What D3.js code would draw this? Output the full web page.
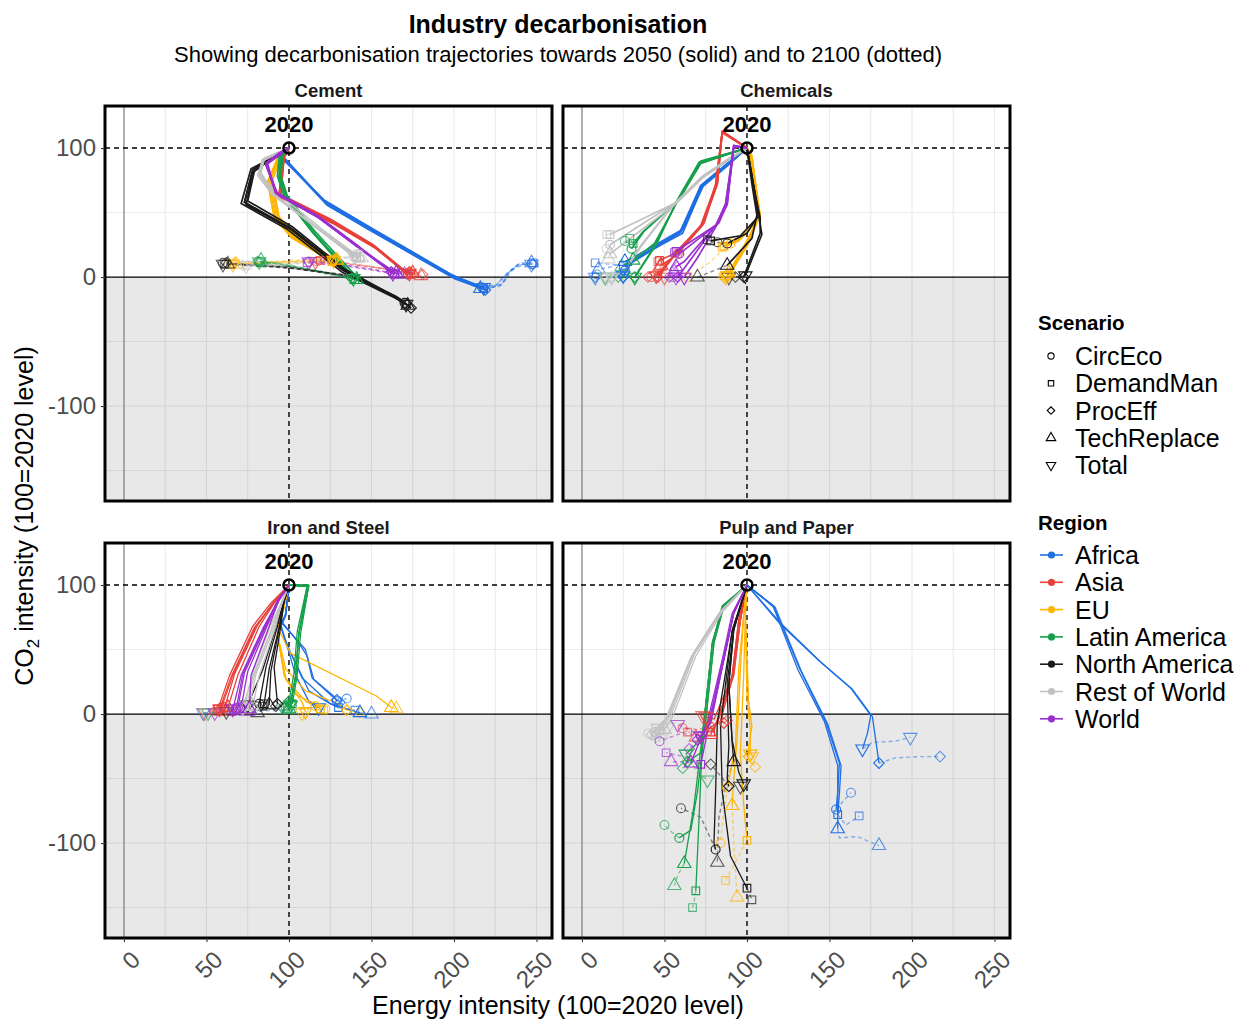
<!DOCTYPE html>
<html lang="en">
<head>
<meta charset="UTF-8">
<title>Industry decarbonisation</title>
<script src="https://cdnjs.cloudflare.com/ajax/libs/d3/7.8.5/d3.min.js"></script>
<style>
  body { margin: 0; background: #fff; font-family: "Liberation Sans", Arial, sans-serif; }
  .tick text { fill: #4d4d4d; font-size: 24px; font-family: "Liberation Sans", Arial, sans-serif; }
  .tick line { stroke: #333; }
</style>
</head>
<body>
<svg id="chart" width="1239" height="1019"></svg>
<script>
const sectors = ["Cement", "Chemicals", "Iron and Steel", "Pulp and Paper"];
const regions = ["Africa", "Asia", "EU", "Latin America", "North America", "Rest of World", "World"];
const regionColors = ["#1f6fe3", "#e8403a", "#ffb400", "#17a04b", "#1a1a1a", "#c2c2c2", "#9a2fcf"];
const scenarios = ["CircEco", "DemandMan", "ProcEff", "TechReplace", "Total"];
const xTicks = [0, 50, 100, 150, 200, 250];
const yTicks = [-100, 0, 100];
const xGrid = [25, 50, 75, 125, 150, 175, 200, 225, 250];
const yGrid = [-150, -100, -50, 50];
const base2020 = [100, 100];

// [region, scenario, path to 2050 (x,y pairs after 2020), path 2050 -> 2100]
const cementPaths = [
  ["Africa","CircEco",[95,95,122,58,147,39,198,2,217,-8],[226,-6,232,3,239,10,247,10]],
  ["Africa","DemandMan",[95,94,123,56,148,37,199,0,218,-9],[228,-7,233,2,240,11,248,11]],
  ["Africa","ProcEff",[96,94,124,55,150,36,200,-1,219,-10],[230,-5,234,5,241,9,248,10]],
  ["Africa","TechReplace",[95,93,121,60,146,41,197,3,216,-9],[224,-8,231,1,238,9,247,11]],
  ["Africa","Total",[96,93,123,57,149,38,199,1,218,-8],[229,-6,233,4,240,10,247,10]],
  ["Asia","CircEco",[97,93,94,64,125,44,151,24,169,5,172,3],[150,8,131,11,117,12]],
  ["Asia","DemandMan",[97,92,94,63,126,43,152,23,170,4,174,2],[165,5,140,10,119,13]],
  ["Asia","ProcEff",[97,93,95,64,125,45,151,25,169,6,173,4],[178,3,181,2]],
  ["Asia","TechReplace",[96,92,94,62,126,42,153,22,171,4,175,3],[177,2,180,1]],
  ["Asia","Total",[97,93,95,63,125,44,152,24,170,5,173,3],[160,6,135,10,116,12]],
  ["EU","CircEco",[94,92,88,75,92,47,103,31,123,16,127,13],[100,12,80,11,66,10]],
  ["EU","DemandMan",[93,92,87,74,91,46,102,30,122,15,126,12],[100,11,82,10,65,10]],
  ["EU","ProcEff",[94,93,89,76,93,48,104,32,124,17,128,14],[102,13,80,11,67,11]],
  ["EU","TechReplace",[95,92,90,75,94,46,105,30,125,15,129,13],[104,12,84,11,68,10]],
  ["EU","Total",[94,92,88,74,92,46,103,30,123,16,127,13],[101,12,81,11,66,10]],
  ["Latin America","CircEco",[95,93,94,78,98,62,115,34,137,3,139,-1],[115,5,95,10,82,12]],
  ["Latin America","DemandMan",[96,93,95,77,99,61,116,33,138,2,140,-2],[116,4,96,9,83,11]],
  ["Latin America","ProcEff",[94,93,93,78,97,63,114,35,136,3,138,-1],[114,6,94,10,81,12]],
  ["Latin America","TechReplace",[96,94,95,79,99,63,116,35,139,3,141,-2],[117,5,97,10,83,13]],
  ["Latin America","Total",[95,93,94,77,98,62,115,34,137,2,139,-1],[115,5,95,10,82,12]],
  ["North America","CircEco",[92,95,78,83,73,58,101,38,133,5,165,-15,170,-20],[160,-12,137,1,100,7,60,11]],
  ["North America","DemandMan",[92,94,77,84,71,57,99,37,132,4,164,-16,171,-21],[161,-13,138,0,98,8,61,10]],
  ["North America","ProcEff",[93,95,79,82,75,59,102,39,134,6,167,-17,174,-24],[162,-14,139,1,102,7,62,11]],
  ["North America","TechReplace",[92,95,78,81,74,56,103,36,135,4,168,-18,172,-22],[163,-15,140,0,101,8,63,10]],
  ["North America","Total",[92,94,78,83,73,58,101,37,133,5,166,-16,171,-21],[161,-13,138,1,100,7,60,10]],
  ["Rest of World","CircEco",[84,91,82,80,90,65,119,36,139,16],[130,15,100,11,75,9]],
  ["Rest of World","DemandMan",[85,92,83,81,91,64,120,35,141,15],[143,14]],
  ["Rest of World","ProcEff",[84,90,81,79,90,64,118,37,140,17],[131,14,102,10,72,9]],
  ["Rest of World","TechReplace",[85,91,82,80,92,66,121,36,142,16],[144,15]],
  ["Rest of World","Total",[84,91,82,80,90,65,119,36,140,16],[132,14,101,10,74,9]],
  ["World","CircEco",[94,96,86,88,92,65,117,47,141,24,163,3],[150,6,130,10,112,12]],
  ["World","DemandMan",[94,95,86,87,93,64,118,46,142,23,164,2],[152,5,131,9,111,11]],
  ["World","ProcEff",[94,96,87,88,92,66,117,48,141,25,162,4],[168,3,172,2]],
  ["World","TechReplace",[95,95,86,87,93,65,118,46,142,23,165,3],[170,2]],
  ["World","Total",[94,96,86,88,92,65,117,47,141,24,163,3],[151,6,130,10,112,12]]
];

const chemicalsPaths = [
  ["Africa","CircEco",[88,87,73,71,60,35,31,13,26,5],[17,3,9,2]],
  ["Africa","DemandMan",[88,86,73,70,61,34,32,14,25,9],[16,10,8,11]],
  ["Africa","ProcEff",[87,87,72,71,60,36,30,12,25,0],[16,0,8,0]],
  ["Africa","TechReplace",[88,88,74,72,61,37,31,15,26,12],[18,8,10,6]],
  ["Africa","Total",[87,86,72,70,59,34,30,11,25,1],[16,0,8,0]],
  ["Asia","CircEco",[85,113,82,73,74,42,58,18],[50,10,42,0]],
  ["Asia","DemandMan",[85,112,82,72,73,41,56,18,47,13],[46,12]],
  ["Asia","ProcEff",[85,113,81,71,72,40,55,15,46,0],[40,0]],
  ["Asia","TechReplace",[85,112,81,72,73,40,56,16,48,9],[47,8]],
  ["Asia","Total",[85,113,82,72,73,41,54,14,45,1],[50,0]],
  ["EU","CircEco",[103,93,108,47,96,30,90,26],[76,10,64,0]],
  ["EU","DemandMan",[103,92,108,46,95,28,86,24],[85,23]],
  ["EU","ProcEff",[102,93,107,47,100,25,90,4,88,1],[86,0]],
  ["EU","TechReplace",[103,94,107,46,99,26,91,8,89,3],[88,1]],
  ["EU","Total",[102,92,108,48,100,24,90,3,88,1],[87,0]],
  ["Latin America","CircEco",[72,89,59,60,38,36,30,22],[26,28]],
  ["Latin America","DemandMan",[72,88,58,59,37,35,31,26],[29,30]],
  ["Latin America","ProcEff",[71,89,57,58,45,25,32,0],[22,0]],
  ["Latin America","TechReplace",[72,90,58,59,44,26,31,13],[24,8]],
  ["Latin America","Total",[71,88,57,57,44,24,32,0],[23,0,14,0]],
  ["North America","CircEco",[104,70,107,48,100,34,88,26],[82,27]],
  ["North America","DemandMan",[104,71,107,47,96,32,78,28],[76,29]],
  ["North America","ProcEff",[104,70,108,46,108,34,98,0],[93,0]],
  ["North America","TechReplace",[103,72,106,48,103,30,88,9],[70,0]],
  ["North America","Total",[104,71,107,49,109,33,99,1],[89,0]],
  ["Rest of World","CircEco",[88,91,74,79,57,58,17,25],[15,22]],
  ["Rest of World","DemandMan",[88,90,73,78,56,57,17,33],[15,33]],
  ["Rest of World","ProcEff",[87,90,72,77,55,55,36,25,25,4,18,0],[14,0]],
  ["Rest of World","TechReplace",[88,91,74,78,57,57,17,18],[16,14]],
  ["Rest of World","Total",[87,89,72,76,54,54,36,24,25,3,18,0],[15,0]],
  ["World","CircEco",[92,102,88,57,83,42,59,18],[56,8,55,0]],
  ["World","DemandMan",[92,101,88,56,82,41,57,20],[56,19]],
  ["World","ProcEff",[92,102,87,57,82,42,65,12,58,0],[53,0]],
  ["World","TechReplace",[92,101,87,56,81,40,62,12,57,8],[56,4]],
  ["World","Total",[92,102,88,58,83,43,70,15,62,0],[57,0]]
];

const ironPaths = [
  ["Africa","CircEco",[98,78,96,71,106,55,111,45,115,27,127,14,129,10],[135,12]],
  ["Africa","DemandMan",[98,77,95,70,98,55,104,40,112,18,125,8,130,5],[140,3]],
  ["Africa","ProcEff",[98,78,96,70,110,50,114,28,126,14,129,11],[131,9]],
  ["Africa","TechReplace",[98,77,95,68,100,50,108,28,125,8,143,1],[150,0]],
  ["Africa","Total",[98,76,95,68,100,48,104,30,112,10,118,5],[80,2,48,1]],
  ["Asia","CircEco",[90,85,80,68,66,30,59,5],[58,3]],
  ["Asia","DemandMan",[89,86,78,68,64,30,57,4],[56,2]],
  ["Asia","ProcEff",[90,86,81,69,67,31,61,5],[61,3]],
  ["Asia","TechReplace",[91,86,82,68,69,30,63,5],[63,2]],
  ["Asia","Total",[90,85,79,67,65,29,58,4],[49,1]],
  ["EU","CircEco",[95,77,93,60,98,27,110,10,116,6],[122,4]],
  ["EU","DemandMan",[95,78,93,63,97,30,104,15,116,8,119,4],[121,3]],
  ["EU","ProcEff",[96,78,93,62,98,35,110,18,130,8,135,3],[143,1]],
  ["EU","TechReplace",[96,80,94,65,101,47,153,14,162,5],[165,4]],
  ["EU","Total",[96,77,93,61,98,28,108,9,110,2],[108,1]],
  ["Latin America","CircEco",[106,100,111,100,106,63,104,30,101,9],[98,5]],
  ["Latin America","DemandMan",[107,100,112,100,107,62,105,30,102,8],[99,6]],
  ["Latin America","ProcEff",[106,99,111,99,105,64,103,31,100,10],[96,5]],
  ["Latin America","TechReplace",[106,100,112,99,106,62,104,28,100,4],[99,3]],
  ["Latin America","Total",[107,100,112,100,106,63,104,29,101,7],[80,3,51,1]],
  ["North America","CircEco",[97,88,93,68,86,36,82,8],[81,6]],
  ["North America","DemandMan",[97,87,94,67,88,35,85,8],[84,6]],
  ["North America","ProcEff",[97,88,95,68,91,36,93,8],[92,6]],
  ["North America","TechReplace",[97,87,94,66,89,33,88,7],[81,1]],
  ["North America","Total",[97,88,92,67,84,34,75,7],[62,2]],
  ["Rest of World","CircEco",[96,88,90,68,79,30,74,6],[72,4]],
  ["Rest of World","DemandMan",[96,87,91,67,80,31,76,6],[74,4]],
  ["Rest of World","ProcEff",[96,88,89,69,78,32,73,7],[70,5]],
  ["Rest of World","TechReplace",[96,88,92,68,82,30,78,6],[76,4]],
  ["Rest of World","Total",[96,87,90,67,78,29,72,5],[50,1]],
  ["World","CircEco",[93,88,86,68,73,32,69,5],[68,3]],
  ["World","DemandMan",[93,87,85,67,72,31,68,4],[66,2]],
  ["World","ProcEff",[94,88,87,69,75,33,71,5],[70,3]],
  ["World","TechReplace",[94,89,88,68,77,30,76,4],[75,2]],
  ["World","Total",[93,87,84,66,71,30,66,4],[55,1]]
];

const pulpPaths = [
  ["Africa","CircEco",[116,84,132,35,148,-7,156,-38,155,-60,154,-74],[158,-68,163,-61]],
  ["Africa","DemandMan",[117,83,133,33,149,-8,157,-40,156,-62,155,-78],[160,-86,168,-79]],
  ["Africa","ProcEff",[120,71,145,40,164,19,176,-2,178,-20,180,-38],[190,-34,205,-33,217,-33]],
  ["Africa","TechReplace",[116,83,131,34,147,-6,155,-40,155,-70,155,-89],[156,-96,167,-95,180,-102]],
  ["Africa","Total",[120,70,144,41,163,20,175,-1,173,-15,170,-27],[176,-22,190,-21,199,-18]],
  ["Asia","CircEco",[96,73,92,30,82,-7,78,-10],[70,-12,61,-11]],
  ["Asia","DemandMan",[96,72,91,29,81,-8,78,-14],[70,-15,64,-14]],
  ["Asia","ProcEff",[96,74,92,31,84,-5,86,-7],[88,-5]],
  ["Asia","TechReplace",[95,73,91,30,82,-6,78,-16],[72,-18,69,-18]],
  ["Asia","Total",[95,73,91,29,80,-4,75,-2],[73,-1]],
  ["EU","CircEco",[98,77,95,35,93,-25,90,-45,88,-57],[85,-85,84,-100]],
  ["EU","DemandMan",[99,77,98,30,96,-30,98,-70,100,-98],[95,-110,87,-129]],
  ["EU","ProcEff",[99,79,101,10,103,-10,101,-25,101,-33],[103,-37,105,-41]],
  ["EU","TechReplace",[98,76,96,34,94,-20,92,-50,91,-71],[92,-100,94,-142]],
  ["EU","Total",[99,78,100,12,102,-12,102,-28,102,-31],[103,-33]],
  ["Latin America","CircEco",[86,84,80,55,74,-17,70,-60,66,-90,59,-96],[53,-90,50,-86]],
  ["Latin America","DemandMan",[86,83,79,56,73,-18,71,-80,69,-137],[68,-145,67,-150]],
  ["Latin America","ProcEff",[86,84,80,56,74,-16,72,-30,64,-37],[61,-42]],
  ["Latin America","TechReplace",[85,84,79,54,73,-16,68,-70,62,-116],[58,-125,56,-133]],
  ["Latin America","Total",[85,83,79,55,73,-17,68,-25,63,-31],[70,-45,76,-51]],
  ["North America","CircEco",[91,64,86,24,82,-7,81,-60,80,-100,81,-105],[72,-80,60,-73]],
  ["North America","DemandMan",[91,65,87,23,84,-10,85,-60,90,-110,100,-135],[103,-144]],
  ["North America","ProcEff",[92,66,88,24,89,-25,88,-50,89,-56],[84,-48,78,-39]],
  ["North America","TechReplace",[92,66,89,24,91,-22,92,-37],[88,-50,83,-80,82,-115]],
  ["North America","Total",[92,65,89,23,91,-20,95,-45,98,-54],[96,-56]],
  ["Rest of World","CircEco",[84,79,67,45,52,-2,44,-14],[40,-15]],
  ["Rest of World","DemandMan",[85,80,68,46,54,-1,47,-13],[44,-16]],
  ["Rest of World","ProcEff",[83,78,66,44,51,-3,42,-16],[45,-18]],
  ["Rest of World","TechReplace",[85,79,69,45,55,-2,50,-12],[48,-16]],
  ["Rest of World","Total",[84,80,67,46,53,-1,46,-11],[52,-10]],
  ["World","CircEco",[92,79,86,42,78,-7,72,-17],[60,-15,47,-21]],
  ["World","DemandMan",[92,78,85,41,77,-8,72,-39],[62,-33,51,-30]],
  ["World","ProcEff",[92,79,86,43,78,-6,70,-20],[65,-27]],
  ["World","TechReplace",[91,78,85,42,76,-6,66,-38],[60,-37,54,-37]],
  ["World","Total",[92,78,86,42,77,-5,72,-17],[65,-12,58,-8]]
];

const sectorPaths = [cementPaths, chemicalsPaths, ironPaths, pulpPaths];

const svg = d3.select("#chart");
const font = "'Liberation Sans', Arial, sans-serif";
const panelW = 447, panelH = 395;
const panelX = [105, 563], panelY = [106, 543];

const x = d3.scaleLinear().domain([-11.5, 259.4]).range([0, panelW]);
const y = d3.scaleLinear().domain([-173.6, 132.6]).range([panelH, 0]);
const color = d3.scaleOrdinal().domain(regions).range(regionColors);

const symbolFor = {
  "CircEco": { type: d3.symbolCircle, size: 62, rot: 0 },
  "DemandMan": { type: d3.symbolSquare, size: 58, rot: 0 },
  "ProcEff": { type: d3.symbolSquare, size: 56, rot: 45 },
  "TechReplace": { type: d3.symbolTriangle, size: 78, rot: 0 },
  "Total": { type: d3.symbolTriangle, size: 78, rot: 180 }
};

function pairs(flat) {
  const out = [];
  for (let i = 0; i < flat.length; i += 2) out.push([flat[i], flat[i + 1]]);
  return out;
}

const line = d3.line().x(d => x(d[0])).y(d => y(d[1]));

function drawMarker(g, pt, scen, col, op) {
  const s = symbolFor[scen];
  g.append("path")
    .attr("d", d3.symbol().type(s.type).size(s.size)())
    .attr("transform", `translate(${x(pt[0])},${y(pt[1])}) rotate(${s.rot})`)
    .attr("fill", "none")
    .attr("stroke", col)
    .attr("stroke-width", 1.1)
    .attr("opacity", op);
}

// title
svg.append("text").attr("x", 558).attr("y", 33).attr("text-anchor", "middle")
  .attr("font-family", font).attr("font-size", 25).attr("font-weight", "bold")
  .attr("fill", "#000").text("Industry decarbonisation");
svg.append("text").attr("x", 558).attr("y", 62).attr("text-anchor", "middle")
  .attr("font-family", font).attr("font-size", 22).attr("fill", "#000")
  .text("Showing decarbonisation trajectories towards 2050 (solid) and to 2100 (dotted)");

sectors.forEach((sector, si) => {
  const col = si % 2, row = Math.floor(si / 2);
  const g = svg.append("g").attr("transform", `translate(${panelX[col]},${panelY[row]})`);

  g.append("defs").append("clipPath").attr("id", "clip" + si)
    .append("rect").attr("width", panelW).attr("height", panelH);

  // strip label
  g.append("text").attr("x", panelW / 2).attr("y", -9).attr("text-anchor", "middle")
    .attr("font-family", font).attr("font-size", 18.5).attr("font-weight", "bold")
    .attr("fill", "#1a1a1a").text(sector);

  const plot = g.append("g").attr("clip-path", `url(#clip${si})`);
  plot.append("rect").attr("width", panelW).attr("height", panelH).attr("fill", "#fff");

  plot.selectAll(".gx").data(xGrid).join("line")
    .attr("x1", d => x(d)).attr("x2", d => x(d)).attr("y1", 0).attr("y2", panelH)
    .attr("stroke", "#ebebeb").attr("stroke-width", 1.1);
  plot.selectAll(".gy").data(yGrid).join("line")
    .attr("x1", 0).attr("x2", panelW).attr("y1", d => y(d)).attr("y2", d => y(d))
    .attr("stroke", "#ebebeb").attr("stroke-width", 1.1);

  // negative emissions zone
  plot.append("rect").attr("x", 0).attr("y", y(0)).attr("width", panelW)
    .attr("height", panelH - y(0)).attr("fill", "#000").attr("opacity", 0.09);

  plot.append("line").attr("x1", x(0)).attr("x2", x(0)).attr("y1", 0).attr("y2", panelH)
    .attr("stroke", "#7a7a7a").attr("stroke-width", 1.2);
  plot.append("line").attr("x1", 0).attr("x2", panelW).attr("y1", y(0)).attr("y2", y(0))
    .attr("stroke", "#000").attr("stroke-width", 1.3);
  plot.append("line").attr("x1", x(100)).attr("x2", x(100)).attr("y1", 0).attr("y2", panelH)
    .attr("stroke", "#000").attr("stroke-width", 1.4).attr("stroke-dasharray", "5,4");
  plot.append("line").attr("x1", 0).attr("x2", panelW).attr("y1", y(100)).attr("y2", y(100))
    .attr("stroke", "#000").attr("stroke-width", 1.4).attr("stroke-dasharray", "5,4");

  const rows = sectorPaths[si];
  const parsed = rows.map(r => {
    const solid = [base2020].concat(pairs(r[2]));
    const end2050 = solid[solid.length - 1];
    const dotted = [end2050].concat(pairs(r[3]));
    return { region: r[0], scenario: r[1], solid, dotted };
  });

  // dotted 2050 -> 2100
  parsed.forEach(p => {
    plot.append("path").attr("d", line(p.dotted)).attr("fill", "none")
      .attr("stroke", color(p.region)).attr("stroke-width", 1.4)
      .attr("stroke-dasharray", "4,3").attr("opacity", 0.5);
  });
  // solid 2020 -> 2050
  parsed.forEach(p => {
    plot.append("path").attr("d", line(p.solid)).attr("fill", "none")
      .attr("stroke", color(p.region)).attr("stroke-width", si < 2 ? 1.7 : 1.3)
      .attr("stroke-linejoin", "round");
  });
  parsed.forEach(p => {
    drawMarker(plot, p.dotted[p.dotted.length - 1], p.scenario, color(p.region), 0.7);
  });
  parsed.forEach(p => {
    drawMarker(plot, p.solid[p.solid.length - 1], p.scenario, color(p.region), 1);
  });

  // 2020 reference point
  plot.append("circle").attr("cx", x(base2020[0])).attr("cy", y(base2020[1])).attr("r", 5.5)
    .attr("fill", "none").attr("stroke", "#000").attr("stroke-width", 2.6);
  g.append("text").attr("x", x(base2020[0])).attr("y", y(base2020[1]) - 16)
    .attr("text-anchor", "middle").attr("font-family", font).attr("font-size", 22)
    .attr("font-weight", "bold").attr("fill", "#000").text("2020");

  g.append("rect").attr("width", panelW).attr("height", panelH).attr("fill", "none")
    .attr("stroke", "#000").attr("stroke-width", 3);

  if (col === 0) {
    const ax = g.append("g").call(d3.axisLeft(y).tickValues(yTicks).tickSize(4).tickPadding(5)
      .tickFormat(d => String(d)));
    ax.select(".domain").remove();
    ax.selectAll(".tick line").attr("stroke", "#333").attr("stroke-width", 1.1);
  }
  if (row === 1) {
    const ax = g.append("g").attr("transform", `translate(0,${panelH})`)
      .call(d3.axisBottom(x).tickValues(xTicks).tickSize(4).tickFormat(d => String(d)));
    ax.select(".domain").remove();
    ax.selectAll(".tick line").attr("stroke", "#333").attr("stroke-width", 1.1);
    ax.selectAll(".tick text")
      .attr("x", 0).attr("y", 0).attr("dy", "0.72em")
      .attr("text-anchor", "end")
      .attr("transform", "translate(5,11) rotate(-45)");
  }
});

// axis titles
svg.append("text").attr("x", 558).attr("y", 1014).attr("text-anchor", "middle")
  .attr("font-family", font).attr("font-size", 25).attr("fill", "#000")
  .text("Energy intensity (100=2020 level)");
const yt = svg.append("text").attr("transform", "translate(33,516) rotate(-90)")
  .attr("text-anchor", "middle").attr("font-family", font).attr("font-size", 25).attr("fill", "#000");
yt.append("tspan").text("CO");
yt.append("tspan").attr("font-size", 17).attr("dy", 6).text("2");
yt.append("tspan").attr("dy", -6).text(" intensity (100=2020 level)");

// legends
const lg = svg.append("g").attr("font-family", font);
lg.append("text").attr("x", 1038).attr("y", 330).attr("font-size", 20.5)
  .attr("font-weight", "bold").text("Scenario");
scenarios.forEach((s, i) => {
  const cy = 356 + i * 27.3;
  const sym = symbolFor[s];
  lg.append("path").attr("d", d3.symbol().type(sym.type).size(sym.size * 0.5)())
    .attr("transform", `translate(1051,${cy}) rotate(${sym.rot})`)
    .attr("fill", "none").attr("stroke", "#000").attr("stroke-width", 1.1);
  lg.append("text").attr("x", 1075).attr("y", cy).attr("dy", "0.36em")
    .attr("font-size", 25).attr("fill", "#000").text(s);
});
lg.append("text").attr("x", 1038).attr("y", 530).attr("font-size", 20.5)
  .attr("font-weight", "bold").text("Region");
regions.forEach((r, i) => {
  const cy = 555 + i * 27.3;
  lg.append("line").attr("x1", 1040).attr("x2", 1063).attr("y1", cy).attr("y2", cy)
    .attr("stroke", color(r)).attr("stroke-width", 1.6);
  lg.append("circle").attr("cx", 1051.5).attr("cy", cy).attr("r", 3.6).attr("fill", color(r));
  lg.append("text").attr("x", 1075).attr("y", cy).attr("dy", "0.36em")
    .attr("font-size", 25).attr("fill", "#000").text(r);
});
</script>
</body>
</html>
